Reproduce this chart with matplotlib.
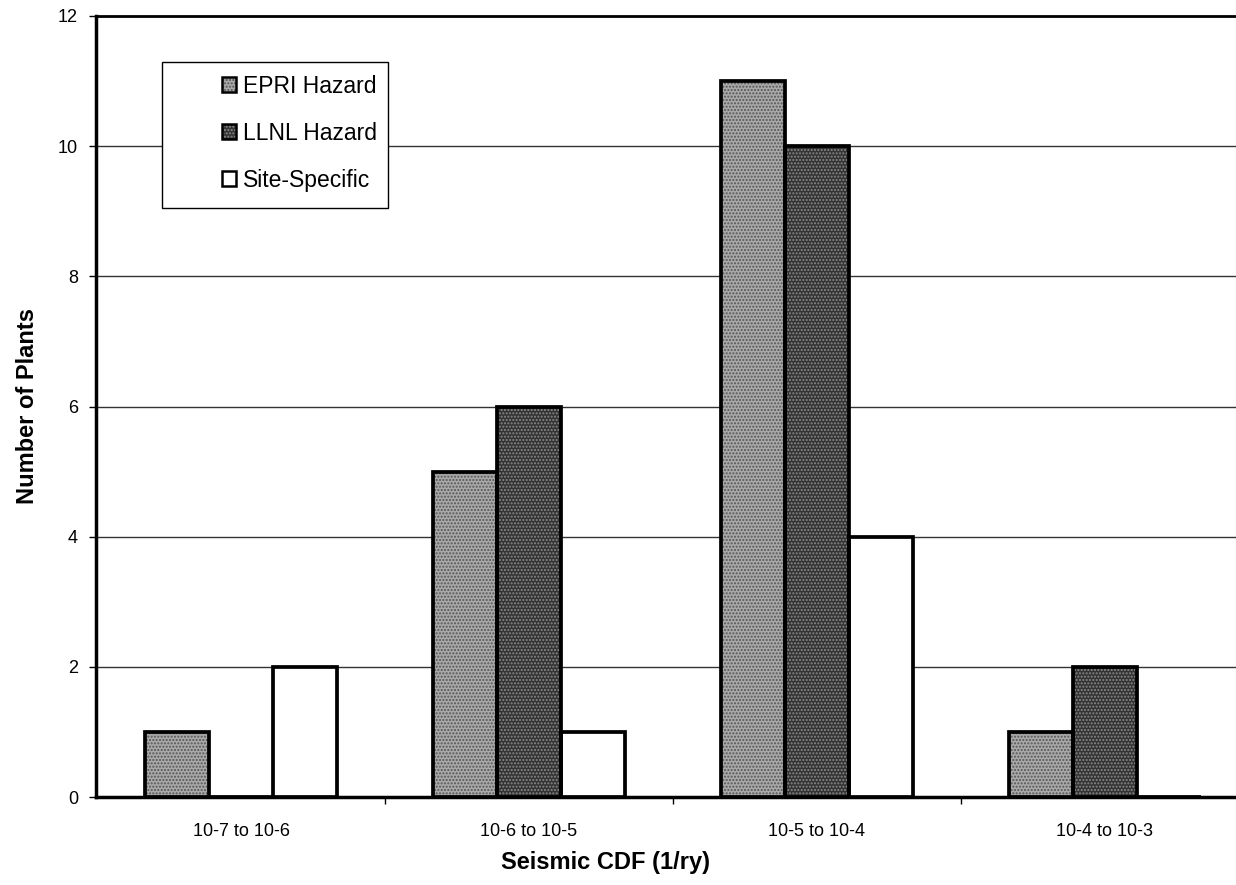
import numpy as np
import matplotlib
matplotlib.use("Agg")
import matplotlib.pyplot as plt
from matplotlib.patches import Rectangle

plt.rcParams['font.family'] = ['Liberation Sans', 'DejaVu Sans']

categories = ["10-7 to 10-6", "10-6 to 10-5", "10-5 to 10-4", "10-4 to 10-3"]
epri = [1, 5, 11, 1]
llnl = [0, 6, 10, 2]
site = [2, 1, 4, 0]
series_names = ["EPRI Hazard", "LLNL Hazard", "Site-Specific"]

fig = plt.figure(figsize=(12.36, 8.85), dpi=100)
ax = fig.add_axes([96 / 1236, 88 / 885, 1140 / 1236, 781 / 885])

x = np.arange(len(categories))
w = 0.222
# (face colour, dot colour, hatch) for each series
styles = [("#a9a9a9", "#555555", "....."),
          ("#333333", "#8a8a8a", "....."),
          ("white", "white", None)]

handles = []
for k, (vals, (fc, hc, hatch)) in enumerate(zip([epri, llnl, site], styles)):
    pos = x + (k - 1) * w
    ax.bar(pos, vals, w, color=fc, edgecolor=hc, hatch=hatch,
           linewidth=0, zorder=3)
    ax.bar(pos, vals, w, fill=False, edgecolor="black", linewidth=2.7, zorder=4)
    h_fill = plt.Rectangle((0, 0), 1, 1, facecolor=fc, edgecolor=hc,
                           hatch=hatch, linewidth=0)
    h_edge = plt.Rectangle((0, 0), 1, 1, fill=False, edgecolor="black",
                           linewidth=1.8)
    handles.append((h_fill, h_edge))

ax.set_ylim(0, 12)
ax.set_xlim(-0.5035, 3.455)
ax.set_yticks(range(0, 13, 2))
ax.yaxis.grid(True, color="#333333", linewidth=1.0, zorder=0)
ax.set_axisbelow(True)

ax.set_xticks(x)
ax.set_xticklabels(categories, fontsize=13)
ax.set_xticks([0.5, 1.5, 2.5], minor=True)
ax.tick_params(axis="x", which="major", length=0, pad=19)
ax.tick_params(axis="x", which="minor", length=5, width=1, direction="out")
ax.tick_params(axis="y", labelsize=13, length=5, width=1, pad=8)

for side in ["left", "bottom"]:
    ax.spines[side].set_linewidth(2.5)
ax.spines["top"].set_linewidth(2)
ax.spines["right"].set_visible(False)

ax.set_xlabel("Seismic CDF (1/ry)", fontsize=17, fontweight="bold")
ax.xaxis.set_label_coords(0.447, -0.069)
ax.set_ylabel("Number of Plants", fontsize=17, fontweight="bold")
ax.yaxis.set_label_coords(-0.05, 0.5)

# legend frame drawn separately so the entries can sit right of centre
frame = Rectangle((0.0579, 0.754), 0.198, 0.187, transform=ax.transAxes,
                  facecolor="white", edgecolor="black", linewidth=1.0,
                  zorder=5)
ax.add_patch(frame)
leg = ax.legend(handles, series_names, loc="center left",
                bbox_to_anchor=(0.1105, 0.850), frameon=False, fontsize=16.5,
                handlelength=0.62, handleheight=0.62, handletextpad=0.3,
                labelspacing=1.05, borderpad=0, borderaxespad=0)
leg.set_zorder(6)

fig.savefig("out.png", dpi=100)
